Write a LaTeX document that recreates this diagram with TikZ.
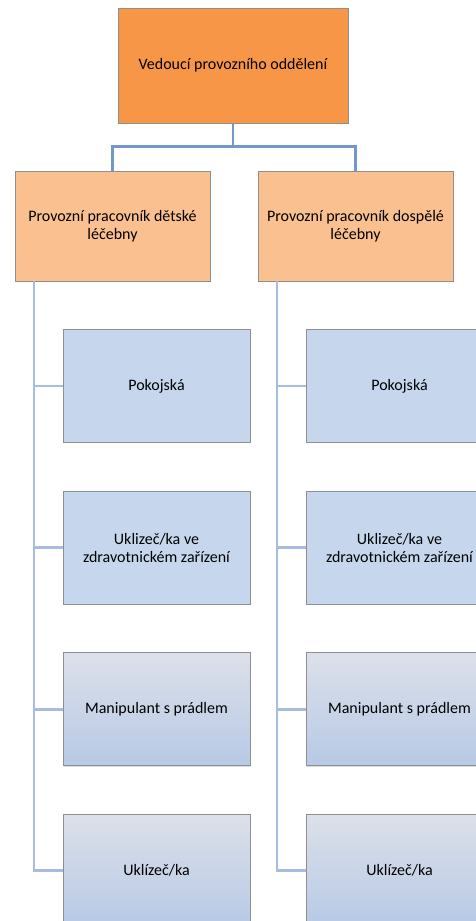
\documentclass[tikz,border=0pt]{standalone}
\usepackage{fontspec}
\setmainfont{Carlito}
\usetikzlibrary{positioning,shadows}

\definecolor{headorange}{HTML}{F79646}
\definecolor{suborange}{HTML}{FAC090}
\definecolor{jobblue}{HTML}{C6D7ED}
\definecolor{gradtop}{HTML}{DCE0E9}
\definecolor{gradbot}{HTML}{B7C9E6}
\definecolor{linkblue}{HTML}{7397CA}
\definecolor{railblue}{HTML}{A7BCDF}
\definecolor{boxedge}{HTML}{8F8F8F}

\tikzset{
  box/.style={rectangle,draw=boxedge,line width=0.4pt,align=center,
    font=\fontsize{12}{13.5}\selectfont,
    drop shadow={shadow xshift=0.7pt,shadow yshift=-0.7pt,opacity=0.3}},
  head/.style={box,fill=headorange,minimum width=172.5pt,minimum height=86.25pt},
  sub/.style={box,fill=suborange,minimum width=146.25pt,minimum height=82.5pt},
  job/.style={box,fill=jobblue,minimum width=140.25pt,minimum height=84.75pt},
  jobgrad/.style={job,top color=gradtop,bottom color=gradbot},
  link/.style={draw=linkblue,line width=2pt},
  rail/.style={draw=railblue,line width=2.2pt}
}

\begin{document}
\begin{tikzpicture}[x=0.75pt,y=-0.75pt,node distance=36pt]
  \useasboundingbox (0,0) rectangle (475,921);

  % vedení
  \node (head) [head] at (233,65.5) {Vedoucí provozního oddělení};
  \node (lc) [sub] at (112.5,226) {Provozní pracovník dětské\\léčebny};
  \node (rc) [sub] at (355.5,226) {Provozní pracovník dospělé\\léčebny};

  % dětská léčebna
  \node (l1) [job] at (156.5,386) {Pokojská};
  \node (l2) [job] [below=of l1] {Uklizeč/ka ve\\zdravotnickém zařízení};
  \node (l3) [jobgrad] [below=of l2] {Manipulant s prádlem};
  \node (l4) [jobgrad] [below=of l3] {Uklízeč/ka};

  % dospělá léčebna
  \node (r1) [job] at (399.5,386) {Pokojská};
  \node (r2) [job] [below=of r1] {Uklizeč/ka ve\\zdravotnickém zařízení};
  \node (r3) [jobgrad] [below=of r2] {Manipulant s prádlem};
  \node (r4) [jobgrad] [below=of r3] {Uklízeč/ka};

  \draw[link] (head.south) -- ++(0,23) -| (lc.north);
  \draw[link] (head.south) -- ++(0,23) -| (rc.north);

  \coordinate (lrail) at (34,281);
  \coordinate (rrail) at (277,281);
  \draw[rail] (lrail) |- (l1.west);
  \draw[rail] (lrail) |- (l2.west);
  \draw[rail] (lrail) |- (l3.west);
  \draw[rail] (lrail) |- (l4.west);
  \draw[rail] (rrail) |- (r1.west);
  \draw[rail] (rrail) |- (r2.west);
  \draw[rail] (rrail) |- (r3.west);
  \draw[rail] (rrail) |- (r4.west);
\end{tikzpicture}
\end{document}
